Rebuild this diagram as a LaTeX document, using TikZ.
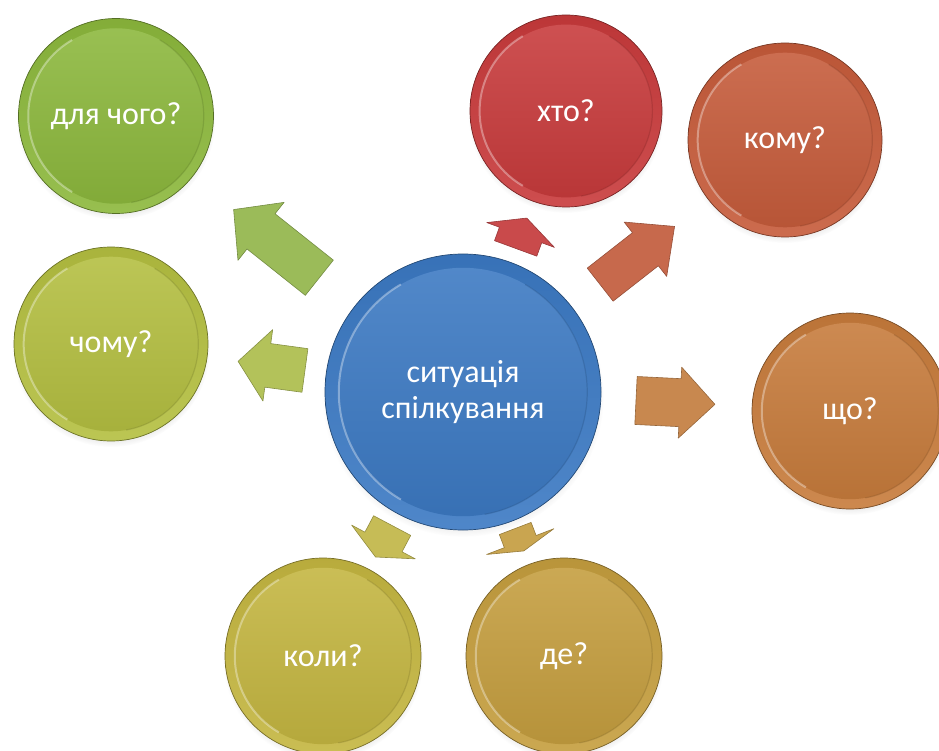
\documentclass[tikz,border=0pt]{standalone}
\usepackage{fontspec}
\setmainfont{Carlito}
\usetikzlibrary{calc,shadows}
\definecolor{cBlue}{RGB}{59,121,195}
\definecolor{cGreen}{RGB}{140,184,60}
\definecolor{cLime}{RGB}{180,191,64}
\definecolor{cRed}{RGB}{200,58,59}
\definecolor{cRust}{RGB}{198,91,58}
\definecolor{cOrange}{RGB}{199,123,59}
\definecolor{cOlive}{RGB}{196,182,64}
\definecolor{cGold}{RGB}{197,158,62}
\definecolor{aGreen}{RGB}{155,187,89}
\definecolor{aLime}{RGB}{179,194,90}
\definecolor{aRed}{RGB}{201,74,75}
\definecolor{aRust}{RGB}{199,105,76}
\definecolor{aOrange}{RGB}{200,136,79}
\definecolor{aOlive}{RGB}{198,188,86}
\definecolor{aGold}{RGB}{201,165,80}
\tikzset{
  ball/.style 2 args={circle, inner sep=0pt, minimum size=#2, text=white,
    font=\fontsize{32}{36}\selectfont, align=center,
    top color=#1!94!black, bottom color=#1!90!white, draw=#1!60!black, line width=0.7pt,
    circular drop shadow={shadow xshift=0pt, shadow yshift=-4pt, opacity=0.3, shadow scale=1.02},
    path picture={
      \shade[top color=#1!88!white, bottom color=#1!92!black]
        (path picture bounding box.center) circle[radius=0.45*#2];
      \draw[white, opacity=0.35, line width=2pt]
        ([shift={(120:{0.45*#2})}]path picture bounding box.center)
        arc[start angle=120, end angle=240, radius={0.45*#2}];
      \draw[#1!65!black, opacity=0.3, line width=1.2pt]
        ([shift={(-80:{0.45*#2})}]path picture bounding box.center)
        arc[start angle=-80, end angle=60, radius={0.45*#2}];
    }},
  barrow/.style={fill=#1, draw=#1!75!black, line width=0.6pt, line join=round}
}
\newcommand\blockarrow[5]{%
  \coordinate (#1n) at ($(#1e)!#4!(#1s)$);
  \filldraw[barrow=#5] ($(#1s)!#2!90:(#1e)$) -- ($(#1n)!#2!90:(#1e)$)
    -- ($(#1n)!#3!90:(#1e)$) -- (#1e) -- ($(#1n)!#3!-90:(#1e)$)
    -- ($(#1n)!#2!-90:(#1e)$) -- ($(#1s)!#2!-90:(#1e)$) -- cycle;}
\begin{document}
\begin{tikzpicture}[x=1pt,y=-1pt]
\useasboundingbox (0,0) rectangle (939,751);
\node[ball={cBlue}{276pt}] (C) at (463,392) {ситуація\\спілкування};
\node[ball={cGreen}{195pt}] (dch) at (116,116) {для чого?};
\node[ball={cLime}{194pt}] (chm) at (111,344) {чому?};
\node[ball={cRed}{192pt}] (kht) at (566,111) {хто?};
\node[ball={cRust}{194pt}] (kom) at (785,140) {кому?};
\node[ball={cOrange}{196pt}] (shc) at (850,411) {що?};
\node[ball={cOlive}{196pt}] (kol) at (323,656) {коли?};
\node[ball={cGold}{196pt}] (de) at (564,656) {де?};

\coordinate (a1s) at ($(C)!0.414!(dch)$); \coordinate (a1e) at ($(C)!0.661!(dch)$);
\blockarrow{a1}{22.5pt}{37pt}{35pt}{aGreen}
\coordinate (a2s) at ($(C)!0.449!(chm)$); \coordinate (a2e) at ($(C)!0.639!(chm)$);
\blockarrow{a2}{22pt}{36pt}{30pt}{aLime}
\coordinate (a3s) at ($(C)!0.511!(kht)$); \coordinate (a3e) at ($(C)!0.619!(kht)$);
\blockarrow{a3}{22.5pt}{36pt}{18pt}{aRed}
\coordinate (a4s) at ($(C)!0.426!(kom)$); \coordinate (a4e) at ($(C)!0.657!(kom)$);
\blockarrow{a4}{21pt}{34.5pt}{37pt}{aRust}
\coordinate (a5s) at ($(C)!0.447!(shc)$); \coordinate (a5e) at ($(C)!0.651!(shc)$);
\blockarrow{a5}{24pt}{35.5pt}{35pt}{aOrange}
\coordinate (a6s) at ($(C)!0.506!(kol)$); \coordinate (a6e) at ($(C)!0.625!(kol)$);
\blockarrow{a6}{21pt}{36pt}{17pt}{aOlive}
\coordinate (a7s) at ($(C)!0.517!(de)$); \coordinate (a7e) at ($(C)!0.602!(de)$);
\blockarrow{a7}{17pt}{36pt}{10pt}{aGold}
\end{tikzpicture}
\end{document}
